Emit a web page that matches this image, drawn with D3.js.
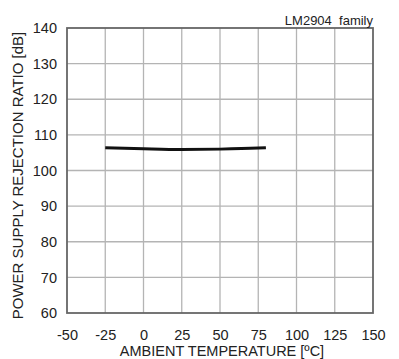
<!DOCTYPE html>
<html><head><meta charset="utf-8">
<script src="https://cdn.jsdelivr.net/npm/d3@7"></script>
<style>body{margin:0;background:#fff}svg{display:block}text{font-family:"Liberation Sans",Arial,sans-serif;fill:#222}</style>
</head><body>
<script>
const temps = [-25, 0, 25, 50, 75, 80];
const psrr = [106.4, 106.1, 105.9, 106.0, 106.3, 106.4];
const xTicks = [-50, -25, 0, 25, 50, 75, 100, 125, 150];
const yTicks = [60, 70, 80, 90, 100, 110, 120, 130, 140];

const W = 399, H = 359;
const m = {l: 67, r: 26, t: 28, b: 46};
const svg = d3.select("body").append("svg").attr("width", W).attr("height", H);
const x = d3.scaleLinear().domain([-50, 150]).range([m.l, W - m.r]);
const y = d3.scaleLinear().domain([60, 140]).range([H - m.b, m.t]);

// grid
svg.append("g").selectAll("line").data(xTicks.slice(1, -1)).join("line")
  .attr("x1", d => x(d)).attr("x2", d => x(d)).attr("y1", y(60)).attr("y2", y(140))
  .attr("stroke", "#b4b4b4").attr("stroke-width", 1.3);
svg.append("g").selectAll("line").data(yTicks.slice(1, -1)).join("line")
  .attr("y1", d => y(d)).attr("y2", d => y(d)).attr("x1", x(-50)).attr("x2", x(150))
  .attr("stroke", "#b4b4b4").attr("stroke-width", 1.3);

// frame
svg.append("rect").attr("x", x(-50)).attr("y", y(140)).attr("width", x(150) - x(-50)).attr("height", y(60) - y(140))
  .attr("fill", "none").attr("stroke", "#666").attr("stroke-width", 1.8);

// axes (labels only)
const fmt = d => String(d);
const xa = svg.append("g").attr("transform", `translate(0,${y(60)})`)
  .call(d3.axisBottom(x).tickValues(xTicks).tickSize(0).tickPadding(17).tickFormat(fmt));
const ya = svg.append("g").attr("transform", `translate(${x(-50)},0)`)
  .call(d3.axisLeft(y).tickValues(yTicks).tickSize(0).tickPadding(10).tickFormat(fmt));
[xa, ya].forEach(a => {
  a.select(".domain").remove();
  a.selectAll("text").attr("font-size", 14.5).attr("font-family", '"Liberation Sans",Arial,sans-serif').attr("fill", "#222");
});

// line
svg.append("path").datum(temps.map((t, i) => [t, psrr[i]]))
  .attr("d", d3.line().x(d => x(d[0])).y(d => y(d[1])).curve(d3.curveMonotoneX))
  .attr("fill", "none").attr("stroke", "#111").attr("stroke-width", 3);

// titles
svg.append("text").attr("x", x(150)).attr("y", 25).attr("text-anchor", "end").attr("font-size", 13)
  .style("white-space", "pre").text("LM2904  family");
svg.append("text").attr("x", (x(-50) + x(150)) / 2 + 2).attr("y", 356).attr("text-anchor", "middle").attr("font-size", 14.5)
  .text("AMBIENT TEMPERATURE [ºC]");
svg.append("text").attr("transform", `translate(23,${(y(60) + y(140)) / 2 + 5}) rotate(-90)`).attr("text-anchor", "middle").attr("font-size", 15)
  .text("POWER SUPPLY REJECTION RATIO [dB]");
</script>
</body></html>
